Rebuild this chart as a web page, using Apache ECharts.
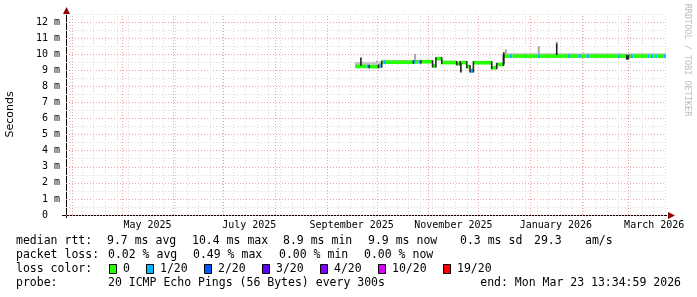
<!DOCTYPE html>
<html><head><meta charset="utf-8">
<script src="https://cdn.jsdelivr.net/npm/echarts@6/dist/echarts.min.js"></script>
<style>html,body{margin:0;padding:0;background:#fff}#c{width:697px;height:297px}</style>
</head><body><div id="c"></div>
<script>
// ---------------- DATA ----------------
const endTime = '2026-03-23T13:34';
const spanDays = 360;

// median RTT segments (ms); each lasts until the next start
const segStart = [
 '2025-09-18T00:00','2025-09-25T00:00','2025-09-26T12:00','2025-10-02T00:00','2025-10-03T12:00',
 '2025-10-04T00:00','2025-10-05T00:00','2025-10-06T12:00','2025-10-23T00:00','2025-10-24T12:00',
 '2025-10-26T00:00','2025-10-27T12:00','2025-11-03T12:00','2025-11-05T12:00','2025-11-09T00:00',
 '2025-11-18T00:00','2025-11-20T00:00','2025-11-24T00:00','2025-11-26T00:00','2025-11-28T00:00',
 '2025-12-09T00:00','2025-12-12T00:00','2025-12-16T00:00','2025-12-20T00:00','2025-12-21T12:00',
 '2026-01-05T12:00','2026-01-07T00:00','2026-01-23T12:00','2026-01-25T00:00','2026-01-30T00:00',
 '2026-01-31T12:00','2026-02-04T00:00','2026-02-05T12:00','2026-02-22T12:00','2026-02-24T00:00',
 '2026-02-28T00:00','2026-03-01T00:00','2026-03-02T12:00','2026-03-04T00:00','2026-03-12T12:00',
 '2026-03-13T12:00','2026-03-14T12:00','2026-03-16T00:00','2026-03-17T12:00','2026-03-18T12:00',
 '2026-03-22T00:00','2026-03-23T00:00'
];
const segMedian = [
 9.24,9.24,9.22,9.26,9.26, 9.50,9.50,9.50,9.52,9.52, 9.52,9.53,9.27,9.72,9.48,
 9.40,9.48,9.22,8.96,9.47, 9.16,9.36,9.88,9.88,9.88, 9.88,9.88,9.88,9.88,9.88,
 9.88,9.88,9.88,9.88,9.88, 9.76,9.88,9.88,9.88,9.88, 9.88,9.88,9.88,9.88,9.88,
 9.88,9.88
];
const segLow = [
 9.18,9.18,9.16,9.18,9.18, 9.44,9.44,9.44,9.44,9.44, 9.44,9.45,9.18,9.64,9.42,
 9.32,9.40,9.14,8.90,9.40, 9.08,9.28,9.76,9.76,9.76, 9.76,9.76,9.76,9.76,9.76,
 9.76,9.76,9.76,9.76,9.76, 9.70,9.76,9.76,9.76,9.76, 9.76,9.76,9.76,9.76,9.76,
 9.76,9.76
];
const segHigh = [
 9.52,9.52,9.50,9.54,9.54, 9.66,9.66,9.64,9.66,9.66, 9.66,9.66,9.42,9.84,9.60,
 9.52,9.58,9.34,9.12,9.58, 9.28,9.48,10.06,10.06,10.06, 10.06,10.06,10.06,10.06,10.06,
 10.06,10.06,10.06,10.06,10.06, 9.98,10.06,10.06,10.06,10.06, 10.06,10.06,10.06,10.06,10.06,
 10.06,10.06
];
const segLoss = [
 0,1,0,1,0, 0,1,0,1,0, 1,0,0,0,0,
 0,0,0,1,0, 0,0,0,1,0, 1,0,1,0,1,
 0,1,0,1,0, 0,0,1,0,1, 0,1,0,1,0,
 1,0
];

// isolated ping spikes (ms)
const darkSpikeAt   = ['2025-09-21T12:00','2025-11-20T12:00','2025-12-16T06:00','2026-01-17T00:00','2026-02-28T06:00'];
const darkSpikeFrom = [9.28, 9.45, 9.36, 9.95, 9.85];
const darkSpikeTo   = [9.80, 8.86, 10.12, 10.66, 9.68];
const lightSpikeAt   = ['2025-10-01T00:00','2025-10-24T00:00','2025-12-17T12:00','2026-01-06T06:00','2026-01-17T00:00'];
const lightSpikeFrom = [9.45, 9.62, 10.00, 10.00, 10.60];
const lightSpikeTo   = [9.60, 10.02, 10.30, 10.50, 10.78];

// axes
const yTickValues = [0,1,2,3,4,5,6,7,8,9,10,11,12];
const yTickLabels = ['0  ','1 m','2 m','3 m','4 m','5 m','6 m','7 m','8 m','9 m','10 m','11 m','12 m'];
const xLabelAt   = ['2025-05-16T12:00','2025-07-16T12:00','2025-09-16T00:00','2025-11-16T00:00','2026-01-16T12:00','2026-03-16T12:00'];
const xLabelText = ['May 2025','July 2025','September 2025','November 2025','January 2026','March 2026'];
const monthStarts = ['2025-04-01','2025-05-01','2025-06-01','2025-07-01','2025-08-01','2025-09-01',
 '2025-10-01','2025-11-01','2025-12-01','2026-01-01','2026-02-01','2026-03-01'];
const firstMonday = '2025-03-31';

// legend
const rttTitle = 'median rtt:';
const rttStats = ['9.7 ms avg','10.4 ms max','8.9 ms min','9.9 ms now','0.3 ms sd','29.3','am/s'];
const lossTitle = 'packet loss:';
const lossStats = ['0.02 % avg','0.49 % max','0.00 % min','0.00 % now'];
const colorTitle = 'loss color:';
const lossLabels = ['0','1/20','2/20','3/20','4/20','10/20','19/20'];
const lossCounts = [0,1,2,3,4,10,19];
const lossColors = ['#26ff00','#00b8ff','#0059ff','#5e00ff','#7e00ff','#dd00ff','#ff0000'];
const probeTitle = 'probe:';
const probeText = '20 ICMP Echo Pings (56 Bytes) every 300s';
const endText = 'end: Mon Mar 23 13:34:59 2026';
const yName = 'Seconds';
const watermark = 'RRDTOOL / TOBI OETIKER';

// ---------------- HELPERS ----------------
function ts(s){ return s.length === 10 ? Date.parse(s + 'T00:00:00Z') : Date.parse(s + ':00Z'); }
const DAY = 86400000;
const endTs = ts(endTime);
const startTs = endTs - spanDays * DAY;
const yMax = 12.5;
function lossColor(n){
  let c = lossColors[0];
  for (let i = 0; i < lossCounts.length; i++) if (n >= lossCounts[i]) c = lossColors[i];
  return c;
}
const weekLines = [];
for (let t = ts(firstMonday); t <= endTs; t += 7 * DAY) weekLines.push([t]);
const monthLines = monthStarts.map(s => [ts(s)]);

const segData = segStart.map((s, i) => [ts(s), i + 1 < segStart.length ? ts(segStart[i + 1]) : endTs,
  segMedian[i], segLow[i], segHigh[i], segLoss[i]]);
const darkSpikes = darkSpikeAt.map((s, i) => [ts(s), darkSpikeFrom[i], darkSpikeTo[i]]);
const lightSpikes = lightSpikeAt.map((s, i) => [ts(s), lightSpikeFrom[i], lightSpikeTo[i]]);
const xLabelTs = xLabelAt.map(ts);

const MONO = "'DejaVu Sans Mono', monospace";
const MAJOR = '#eba5a5', MINOR = '#dadada';

function gridLineRender(color){
  return function(params, api){
    const p0 = api.coord([api.value(0), 0]);
    const p1 = api.coord([api.value(0), yMax]);
    const x = Math.round(p0[0]) + 0.5;
    return {type:'line', shape:{x1:x, y1:p0[1], x2:x, y2:p1[1]},
      style:{stroke:color, lineWidth:1, lineDash:[1,2]}};
  };
}
function bandRender(params, api){
  const i = params.dataIndex;
  const t0 = api.value(0), t1 = api.value(1);
  const med = api.value(2), lo = api.value(3), hi = api.value(4), loss = api.value(5);
  const pLo = api.coord([t0, lo]), pHi = api.coord([t1, hi]), pMed = api.coord([t0, med]);
  const x0 = pLo[0], x1 = pHi[0];
  const ch = [
    {type:'rect', shape:{x:x0, y:pHi[1], width:x1 - x0, height:pLo[1] - pHi[1]}, style:{fill:'#c4c4c4'}},
    {type:'rect', shape:{x:x0, y:pMed[1] - 1.8, width:x1 - x0, height:3.6}, style:{fill:lossColor(loss)}}
  ];
  if (i > 0 && segMedian[i - 1] !== med) {
    const pPrev = api.coord([t0, segMedian[i - 1]]);
    const ya = Math.min(pPrev[1], pMed[1]) - 1.5, yb = Math.max(pPrev[1], pMed[1]) + 1.5;
    ch.push({type:'rect', shape:{x:x0 - 0.8, y:ya, width:1.6, height:yb - ya}, style:{fill:'#2a2a2a'}});
  }
  return {type:'group', children:ch};
}
function spikeRender(color, w){
  return function(params, api){
    const a = api.coord([api.value(0), api.value(1)]);
    const b = api.coord([api.value(0), api.value(2)]);
    return {type:'rect', shape:{x:a[0] - w / 2, y:Math.min(a[1], b[1]), width:w, height:Math.abs(a[1] - b[1])},
      style:{fill:color}};
  };
}

// ---------------- GRAPHICS (legend, decorations) ----------------
const g = [];
function txt(x, y, s, opt){
  opt = opt || {};
  g.push({type:'text', x:x, y:y, rotation:opt.rot || 0, silent:true,
    style:{text:s, font:opt.font || ('11.5px ' + MONO), fill:opt.fill || '#000',
      align:opt.align || 'left', textAlign:opt.align || 'left',
      verticalAlign:'middle', textVerticalAlign:'middle'}});
}
const rowY = [241, 255, 269, 283];
const colX = 108;
txt(16, rowY[0], rttTitle);
const rttX = [107, 192, 283, 368, 460, 534, 585];
rttStats.forEach((s, i) => txt(rttX[i], rowY[0], s));
txt(16, rowY[1], lossTitle);
const lossX = [108, 193, 279, 364];
lossStats.forEach((s, i) => txt(lossX[i], rowY[1], s));
txt(16, rowY[2], colorTitle);
const boxX = [109, 146, 204, 262, 320, 378, 443];
lossLabels.forEach((s, i) => {
  g.push({type:'rect', silent:true, shape:{x:boxX[i] + 0.5, y:rowY[2] - 4.5, width:7, height:9},
    style:{fill:lossColors[i], stroke:'#000', lineWidth:1}});
  txt(boxX[i] + 14, rowY[2], s);
});
txt(16, rowY[3], probeTitle);
txt(colX, rowY[3], probeText);
txt(681, rowY[3], endText, {align:'right'});
txt(687, 60, watermark, {rot:-Math.PI / 2, align:'center', fill:'#bdbdbd', font:'8.5px ' + MONO});
// axis arrows & axis lines
g.push({type:'line', silent:true, shape:{x1:66.5, y1:8, x2:66.5, y2:218}, style:{stroke:'#000', lineWidth:1}});
g.push({type:'line', silent:true, shape:{x1:62, y1:215.5, x2:667, y2:215.5}, style:{stroke:'#000', lineWidth:1}});
g.push({type:'polygon', silent:true, shape:{points:[[66.5, 7],[63, 14],[70, 14]]}, style:{fill:'#900000'}});
g.push({type:'polygon', silent:true, shape:{points:[[675, 215.5],[668, 212],[668, 219]]}, style:{fill:'#900000'}});

// ---------------- CHART ----------------
const chart = echarts.init(document.getElementById('c'), null, {renderer:'canvas', width:697, height:297});
chart.setOption({
  animation:false,
  backgroundColor:'#ffffff',
  grid:{left:66, right:31, top:14, bottom:82, containLabel:false, outerBoundsMode:'none'},
  xAxis:{type:'value', min:startTs, max:endTs, scale:true,
    axisLine:{show:false}, axisTick:{show:false}, splitLine:{show:false},
    axisLabel:{customValues:xLabelTs, margin:5, color:'#000', fontFamily:MONO, fontSize:10,
      formatter:function(v){ const k = xLabelTs.indexOf(v); return k >= 0 ? xLabelText[k] : ''; }}
  },
  yAxis:{type:'value', min:0, max:yMax, interval:0.5,
    axisLine:{show:false}, axisTick:{show:false},
    axisLabel:{customValues:yTickValues, margin:6, color:'#000', fontFamily:MONO, fontSize:10,
      formatter:function(v){ const k = yTickValues.indexOf(v); return k >= 0 ? yTickLabels[k] : ''; }},
    splitLine:{show:true, lineStyle:{color:[MAJOR, MINOR], width:1, type:[1,2]}},
    name:yName, nameLocation:'middle', nameGap:50, nameRotate:90,
    nameTextStyle:{fontFamily:"'DejaVu Sans', sans-serif", fontSize:11, color:'#000'}
  },
  series:[
    {type:'custom', name:'week', data:weekLines, renderItem:gridLineRender(MINOR), silent:true, z:1,
      encode:{x:0}, clip:true},
    {type:'custom', name:'month', data:monthLines, renderItem:gridLineRender(MAJOR), silent:true, z:1,
      encode:{x:0}, clip:true},
    {type:'custom', name:'rtt', data:segData, renderItem:bandRender, silent:true, z:3,
      encode:{x:[0,1], y:[2,3,4]}, clip:true},
    {type:'custom', name:'lightSpikes', data:lightSpikes, renderItem:spikeRender('#a8a8a8', 2), silent:true, z:2,
      encode:{x:0, y:[1,2]}},
    {type:'custom', name:'darkSpikes', data:darkSpikes, renderItem:spikeRender('#1e1e1e', 1.6), silent:true, z:4,
      encode:{x:0, y:[1,2]}}
  ],
  graphic:g
});
</script>
</body></html>
